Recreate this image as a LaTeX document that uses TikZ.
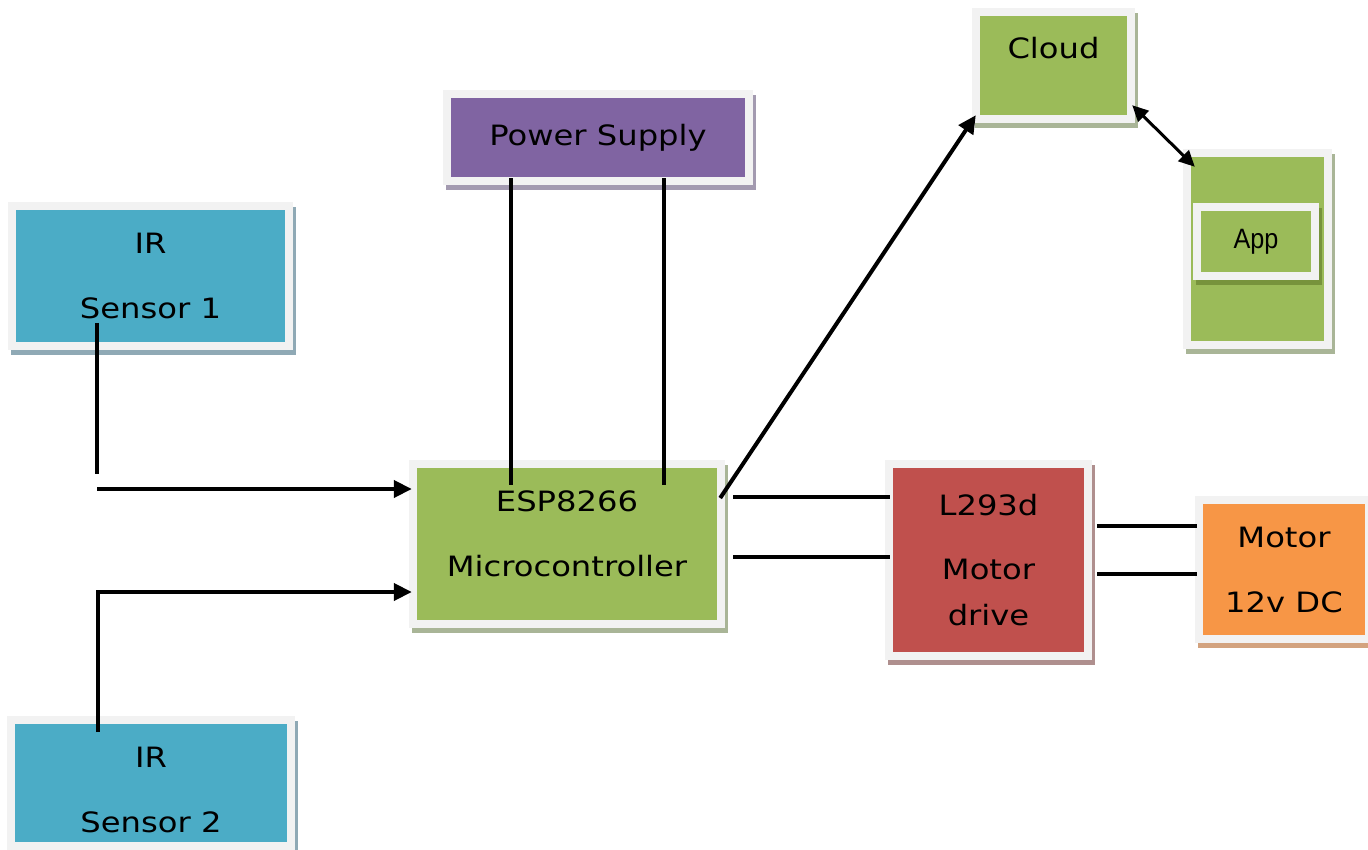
\documentclass[tikz,border=0pt]{standalone}
\usepackage{fontspec}
\usetikzlibrary{arrows.meta,shadows}

\newfontfamily\blockfont[FakeStretch=1.15]{DejaVu Sans}
\newfontfamily\appfont[FakeStretch=0.9]{Liberation Sans}

\definecolor{rim}{HTML}{F2F2F2}
\definecolor{irblue}{HTML}{4BACC6}
\definecolor{irshade}{HTML}{8FA9B5}
\definecolor{leaf}{HTML}{9BBB59}
\definecolor{leafshade}{HTML}{A9B597}
\definecolor{leafdark}{HTML}{77933C}
\definecolor{plum}{HTML}{8064A2}
\definecolor{plumshade}{HTML}{A39AB0}
\definecolor{brick}{HTML}{C0504D}
\definecolor{brickshade}{HTML}{AF8F8E}
\definecolor{amber}{HTML}{F79646}
\definecolor{ambershade}{HTML}{D3A37F}

\begin{document}
\begin{tikzpicture}[x=1pt, y=-1pt,
  every node/.style={font=\blockfont\fontsize{28}{34}\selectfont, align=center},
  block/.style 2 args={fill=rim, inner sep=0pt,
    drop shadow={shadow xshift=3pt, shadow yshift=-5pt, fill=#2, opacity=1},
    path picture={\fill[#1] ([shift={(8pt,8pt)}]path picture bounding box.south west)
      rectangle ([shift={(-8pt,-8pt)}]path picture bounding box.north east);}},
  wire/.style={line width=4pt},
  feed/.style={wire, -{Triangle[length=18pt,width=17pt]}}]
  \useasboundingbox (0,0) rectangle (1368,850);

  % IR sensors
  \node[block={irblue}{irshade}, minimum width=285pt, minimum height=148pt] (ir1) at (150.5,276) {IR\\[31pt]Sensor 1};
  \node[block={irblue}{irshade}, minimum width=288pt, minimum height=134pt,
    label={[yshift=-7pt]center:{IR\\[31pt]Sensor 2}}] (ir2) at (151,783) {};

  % Power supply and controller
  \node[block={plum}{plumshade}, minimum width=310pt, minimum height=95pt] (pwr) at (598,137.5) {Power Supply};
  \node[block={leaf}{leafshade}, minimum width=316pt, minimum height=168pt,
    label={[yshift=10pt]center:{ESP8266\\[31pt]Microcontroller}}] (mcu) at (567,544) {};

  % Cloud and phone app
  \node[block={leaf}{leafshade}, minimum width=163pt, minimum height=115pt,
    label={[yshift=17pt]center:Cloud}] (cloud) at (1053.5,65.5) {};
  \node[block={leaf}{leafshade}, minimum width=149pt, minimum height=200pt] (phone) at (1257.5,249) {};
  \node[block={leaf}{leafdark}, minimum width=126pt, minimum height=77pt,
    font=\appfont\fontsize{28}{34}\selectfont] (app) at (1256,241.5) {App};

  % Motor driver and motor
  \node[block={brick}{brickshade}, minimum width=207pt, minimum height=200pt] (drv) at (988.5,560) {L293d\\[30pt]Motor\\[12pt]drive};
  \node[block={amber}{ambershade}, minimum width=178pt, minimum height=147pt] (motor) at (1284,569.5) {Motor\\[31pt]12v DC};

  % Sensor 1 into the controller
  \coordinate (s1top) at (97,323);
  \coordinate (s1end) at (97,474);
  \coordinate (s1start) at (97,489);
  \draw[wire] (s1top) -- (s1end);
  \draw[feed] (s1start) -- ([xshift=3pt]s1start -| mcu.west);

  % Sensor 2 into the controller
  \coordinate (s2top) at (98,732);
  \draw[feed] (s2top) |- ([xshift=3pt,yshift=-48pt]mcu.west);

  % Supply lines
  \draw[wire] ([xshift=-87pt,yshift=7pt]pwr.south) -- ([xshift=-56pt,yshift=-25pt]mcu.north);
  \draw[wire] ([xshift=66pt,yshift=7pt]pwr.south) -- ([xshift=97pt,yshift=-25pt]mcu.north);

  % Controller to cloud, cloud to app
  \draw[feed] ([xshift=-5pt,yshift=46pt]mcu.east) -- ([xshift=4pt,yshift=8pt]cloud.south west);
  \draw[line width=3pt, {Triangle[length=16pt,width=15pt]}-{Triangle[length=16pt,width=15pt]}]
    ([xshift=-3pt,yshift=18pt]cloud.south east) -- ([xshift=12pt,yshift=-18pt]phone.north west);

  % Controller to driver
  \draw[wire] ([xshift=8pt,yshift=47pt]mcu.east) -- ([xshift=5pt,yshift=63pt]drv.west);
  \draw[wire] ([xshift=8pt,yshift=-13pt]mcu.east) -- ([xshift=5pt,yshift=3pt]drv.west);

  % Driver to motor
  \draw[wire] ([xshift=5pt,yshift=34pt]drv.east) -- ([xshift=2pt,yshift=43.5pt]motor.west);
  \draw[wire] ([xshift=5pt,yshift=-14pt]drv.east) -- ([xshift=2pt,yshift=-4.5pt]motor.west);
\end{tikzpicture}
\end{document}
